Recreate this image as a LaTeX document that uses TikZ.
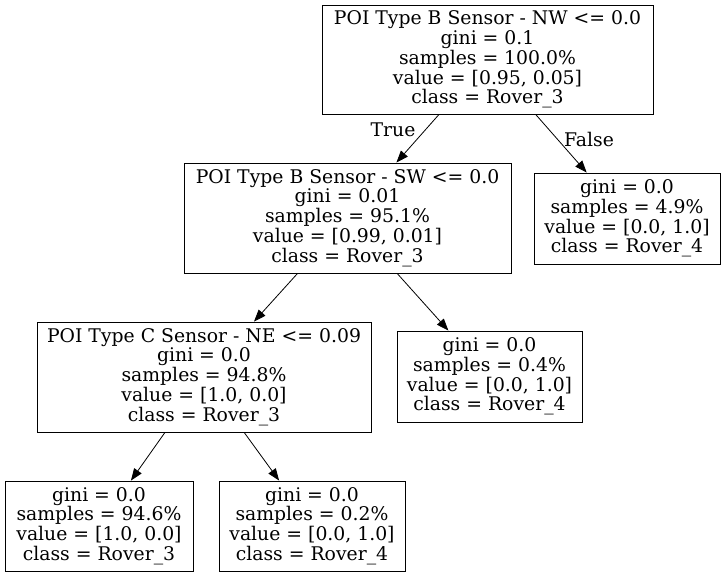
\documentclass[tikz,border=0pt]{standalone}
\usepackage{fontspec}
\setmainfont{DejaVu Serif}
\usetikzlibrary{arrows.meta}
\begin{document}
\begin{tikzpicture}[x=1pt,y=-1pt,
  box/.style={draw, line width=0.9pt, rectangle, align=center, inner sep=0pt,
    font=\fontsize{18.8}{19.8}\selectfont},
  edge/.style={line width=0.8pt, -{Triangle[length=12pt,width=9pt]}},
  lbl/.style={font=\fontsize{18.8}{19.8}\selectfont, inner sep=0pt}]
\useasboundingbox (0,0) rectangle (726,577);
\node[box, minimum width=331pt, minimum height=109pt] (root) at (487.5,59.5)
  {POI Type B Sensor - NW <= 0.0\\gini = 0.1\\samples = 100.0\%\\value = [0.95, 0.05]\\class = Rover\_3};
\node[box, minimum width=327pt, minimum height=110pt] (n1) at (347.5,218)
  {POI Type B Sensor - SW <= 0.0\\gini = 0.01\\samples = 95.1\%\\value = [0.99, 0.01]\\class = Rover\_3};
\node[box, minimum width=186pt, minimum height=91pt] (n2) at (627,218.5)
  {gini = 0.0\\samples = 4.9\%\\value = [0.0, 1.0]\\class = Rover\_4};
\node[box, minimum width=334pt, minimum height=110pt] (n3) at (204,377)
  {POI Type C Sensor - NE <= 0.09\\gini = 0.0\\samples = 94.8\%\\value = [1.0, 0.0]\\class = Rover\_3};
\node[box, minimum width=185pt, minimum height=91pt] (n4) at (489.5,376.5)
  {gini = 0.0\\samples = 0.4\%\\value = [0.0, 1.0]\\class = Rover\_4};
\node[box, minimum width=188pt, minimum height=90pt] (n5) at (99,526)
  {gini = 0.0\\samples = 94.6\%\\value = [1.0, 0.0]\\class = Rover\_3};
\node[box, minimum width=186pt, minimum height=90pt] (n6) at (312,526)
  {gini = 0.0\\samples = 0.2\%\\value = [0.0, 1.0]\\class = Rover\_4};
\draw[edge] (root) -- (n1);
\draw[edge] (root) -- (n2);
\draw[edge] (n1) -- (n3);
\draw[edge] (n1) -- (n4);
\draw[edge] (n3) -- (n5);
\draw[edge] (n3) -- (n6);
\node[lbl] (tl) at (393,130) {True};
\node[lbl] (fl) at (589,139) {False};
\end{tikzpicture}
\end{document}
